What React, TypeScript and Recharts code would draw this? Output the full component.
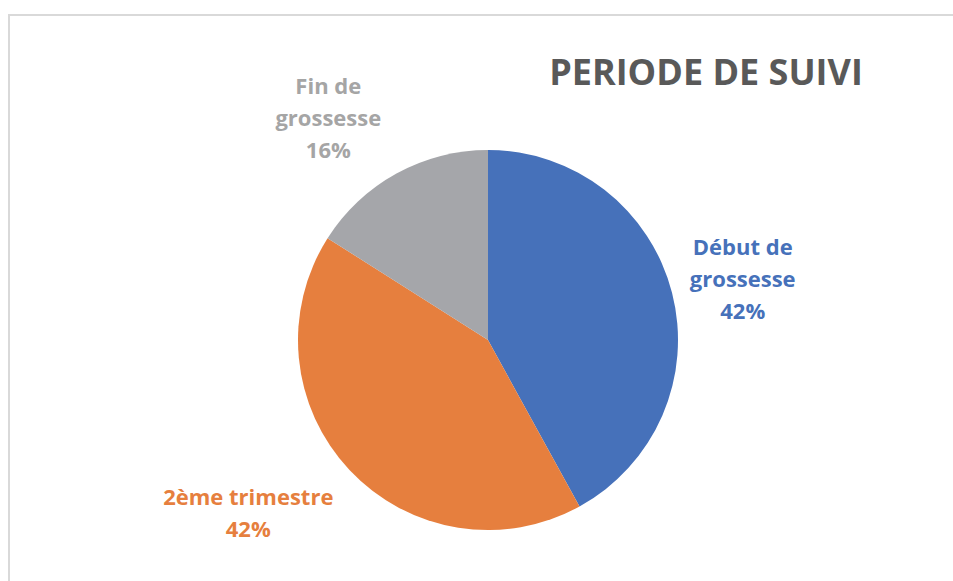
import { PieChart, Pie, Cell } from "recharts";

const categories = ["Début de grossesse", "2ème trimestre", "Fin de grossesse"];
const shares = [42, 42, 16];
const labelLines = [["Début de", "grossesse"], ["2ème trimestre"], ["Fin de", "grossesse"]];
const colors = ["#4671BA", "#E67F3E", "#A5A6AA"];
const textColors = ["#4671BA", "#E67F3E", "#A5A5A5"];

const data = categories.map((name, i) => ({ name, value: shares[i] }));

const RAD = Math.PI / 180;
// fine adjustment of Excel's "best fit" label placement
const nudge = [
  { dx: 0, dy: 3 },
  { dx: -48, dy: -8 },
  { dx: -33, dy: 7 },
];

const renderLabel = (props: any) => {
  const { cx, cy, midAngle, outerRadius, percent, index } = props;
  const r = outerRadius + 73;
  const x = cx + r * Math.cos(-midAngle * RAD) + nudge[index].dx;
  const y = cy + r * Math.sin(-midAngle * RAD) + nudge[index].dy;
  const lines = [...labelLines[index], `${Math.round(percent * 100)}%`];
  const lh = 32;
  return (
    <text
      x={x}
      y={y}
      textAnchor="middle"
      fill={textColors[index]}
      fontFamily="'Open Sans', sans-serif"
      fontWeight={700}
      fontSize={22}
    >
      {lines.map((l, i) => (
        <tspan key={i} x={x} y={y + (i - (lines.length - 1) / 2) * lh} dominantBaseline="central">
          {l}
        </tspan>
      ))}
    </text>
  );
};

export default function App() {
  return (
    <div style={{ position: "relative", width: 953, height: 581, overflow: "hidden", background: "#fff" }}>
      <style>{`body{margin:0}.recharts-pie-sectors{filter:drop-shadow(2px 3px 3px rgba(0,0,0,0.22))}`}</style>
      <div
        style={{
          position: "absolute",
          left: 8,
          top: 14,
          width: 980,
          height: 620,
          borderTop: "2px solid #d9d9d9",
          borderLeft: "2px solid #d9d9d9",
        }}
      />
      <div style={{ position: "absolute", left: 0, top: 0 }}>
        <PieChart width={953} height={581}>
          <Pie
            data={data}
            dataKey="value"
            nameKey="name"
            cx={483}
            cy={335}
            outerRadius={190}
            startAngle={90}
            endAngle={-270}
            stroke="none"
            label={renderLabel}
            labelLine={false}
            isAnimationActive={false}
          >
            {data.map((d, i) => (
              <Cell key={d.name} fill={colors[i]} />
            ))}
          </Pie>
        </PieChart>
      </div>
      <svg width={953} height={581} style={{ position: "absolute", left: 0, top: 0, pointerEvents: "none" }}>
        <text
          x={706}
          y={85}
          textAnchor="middle"
          fill="#595959"
          fontFamily="'Open Sans', sans-serif"
          fontWeight={700}
          fontSize={36}
        >
          PERIODE DE SUIVI
        </text>
      </svg>
    </div>
  );
}
